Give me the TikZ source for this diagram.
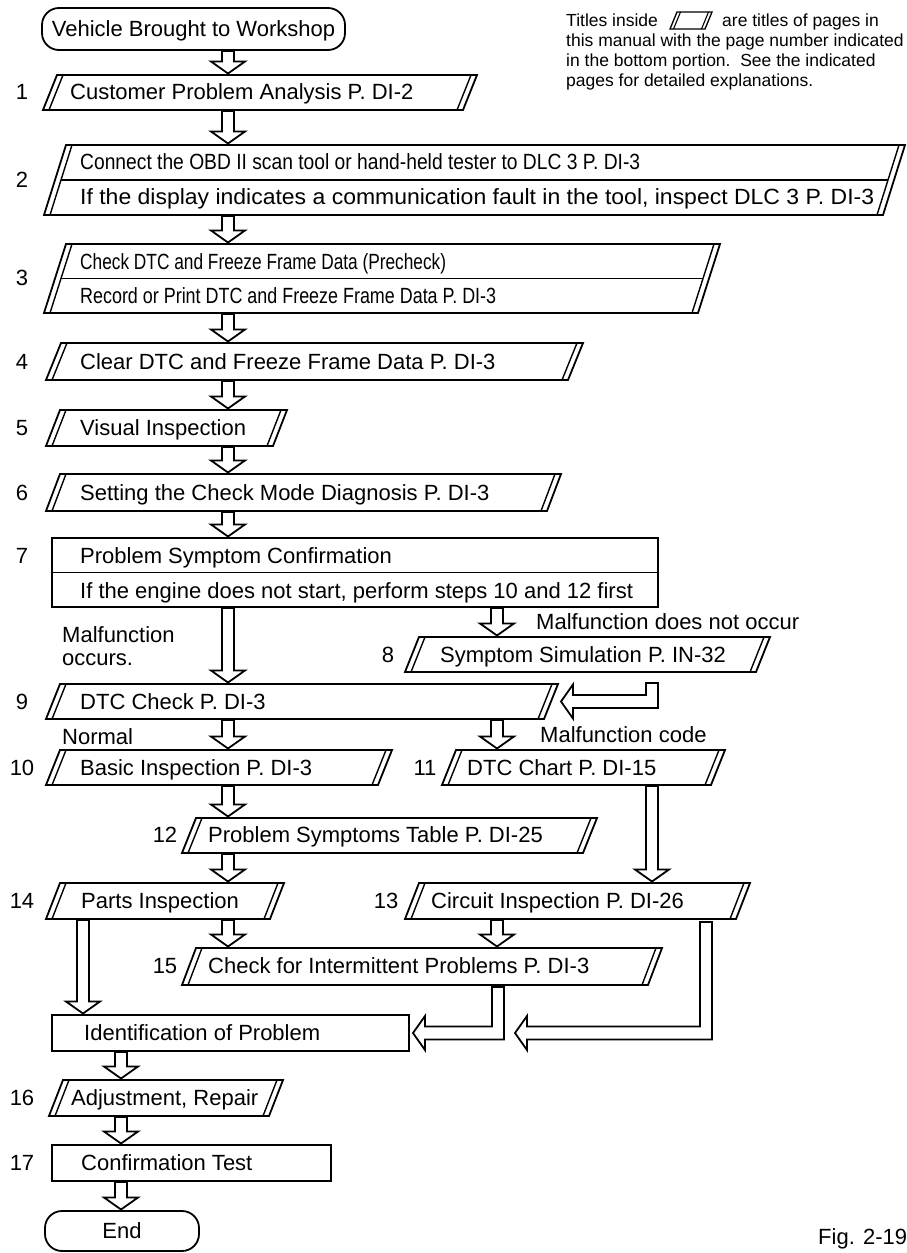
\documentclass[tikz,border=0pt]{standalone}
\usepackage{fontspec}
\setmainfont{Liberation Sans}
\usetikzlibrary{calc}
\tikzset{
 boxln/.style={line width=1.8pt, line join=miter},
 dblln/.style={line width=1.4pt},
 harrow/.style={line width=1.8pt, fill=white, line join=miter},
 pframe/.style={inner sep=0pt, outer sep=0pt, anchor=north west},
 ltext/.style={font=\fontsize{22}{26}\selectfont, inner sep=0pt, text height=15.8pt, text depth=0pt, anchor=west},
 lnum/.style={ltext, anchor=center},
 ntext/.style={font=\fontsize{17.5}{20}\selectfont, inner sep=0pt, text height=12.5pt, text depth=0pt, anchor=west},
}
% parallelogram box: name, x bottom-left, x top-right, y top, y bottom, slant offset
\newcommand\pbox[6]{%
 \node[pframe, minimum width={#3-#2}, minimum height={#5-#4}] (#1) at (#2,#4) {};
 \draw[boxln] ([xshift=#6pt]#1.north west) -- (#1.north east) -- ([xshift=-#6pt]#1.south east) -- (#1.south west) -- cycle;
 \draw[dblln] ([xshift={#6pt+6pt}]#1.north west) -- ([xshift=6pt]#1.south west);
 \draw[dblln] ([xshift=-6pt]#1.north east) -- ([xshift={-#6pt-6pt}]#1.south east);
}
\newcommand\rbox[5]{%
 \node[pframe, draw, boxln, minimum width={#3-#2}, minimum height={#5-#4}] (#1) at (#2,#4) {};}
% vertical hollow arrow from node #1 to node #2 along column #3
\newcommand\varr[3]{%
 \draw[harrow] let \p1=($(#1.south -| #3)+(0,1)$), \p2=($(#2.north -| #3)+(0,-1.5)$) in
 ({\x1-6pt},\y1) -- ({\x1-6pt},{\y2+12pt}) -- ({\x1-17pt},{\y2+12pt}) -- (\x1,\y2) --
 ({\x1+17pt},{\y2+12pt}) -- ({\x1+6pt},{\y2+12pt}) -- ({\x1+6pt},\y1) -- cycle;}
% elbow hollow arrow: down from #1, then left to tip #2
\newcommand\earr[2]{%
 \draw[harrow] let \p1=(#1), \p2=(#2) in
 ({\x1-6pt},\y1) -- ({\x1+6pt},\y1) -- ({\x1+6pt},{\y2-6.5pt}) -- ({\x2+12pt},{\y2-6.5pt}) --
 ({\x2+12pt},{\y2-17pt}) -- (\x2,\y2) -- ({\x2+12pt},{\y2+17pt}) -- ({\x2+12pt},{\y2+6.5pt}) --
 ({\x1-6pt},{\y2+6.5pt}) -- cycle;}
\begin{document}
\begin{tikzpicture}[x=1pt,y=-1pt]
\useasboundingbox (0,0) rectangle (906,1253);
\fill[white] (0,0) rectangle (906,1253);
% columns
\coordinate (cA) at (228,0);
\coordinate (cB) at (497,0);
\coordinate (cC) at (652,0);
\coordinate (cD) at (83,0);
\coordinate (cE) at (121,0);
\coordinate (cF) at (706,0);
\coordinate (cG) at (498,0);
% note
\node[ntext] (nt1) at (566,20) {Titles inside};
\node[pframe, minimum width=42, minimum height=17] (icon) at (670,12) {};
\draw[line width=1.3pt] ([xshift=7pt]icon.north west) -- (icon.north east) -- ([xshift=-7pt]icon.south east) -- (icon.south west) -- cycle;
\draw[line width=1.1pt] ([xshift=10.5pt]icon.north west) -- ([xshift=3.5pt]icon.south west);
\draw[line width=1.1pt] ([xshift=-3.5pt]icon.north east) -- ([xshift=-10.5pt]icon.south east);
\node[ntext] (nt1b) at (722,20) {are titles of pages in};
\node[ntext] (nt2) at (566,40) {this manual with the page number indicated};
\node[ntext] (nt3) at (566,60) {in the bottom portion.~~See the indicated};
\node[ntext] (nt4) at (566,80) {pages for detailed explanations.};
% start
\node[pframe, draw, boxln, rounded corners=17pt, minimum width=303, minimum height=42] (start) at (42,8) {};
\node[lnum] (tstart) at (start.center) {Vehicle Brought to Workshop};
% 1
\pbox{b1}{43}{477}{75}{110}{14}
\node[ltext] (t1) at (70,92) {Customer Problem Analysis P. DI-2};
\node[lnum] (n1) at (22,92) {1};
\varr{start}{b1}{cA}
% 2
\pbox{b2}{44}{905}{145}{215}{22}
\draw[boxln] ([xshift=17pt]b2.west) -- ([xshift=-17pt]b2.east);
\node[ltext] (t2a) at (80,162) {\resizebox{560pt}{\height}{Connect the OBD II scan tool or hand-held tester to DLC 3 P. DI-3}};
\node[ltext] (t2b) at (80,197) {\resizebox{794pt}{\height}{If the display indicates a communication fault in the tool, inspect DLC 3 P. DI-3}};
\node[lnum] (n2) at (22,180) {2};
\varr{b1}{b2}{cA}
% 3
\pbox{b3}{44}{720}{244}{313}{22}
\draw[boxln] ([xshift=17pt]b3.west) -- ([xshift=-17pt]b3.east);
\node[ltext] (t3a) at (80,262) {\resizebox{366pt}{\height}{Check DTC and Freeze Frame Data (Precheck)}};
\node[ltext] (t3b) at (80,296) {\resizebox{416pt}{\height}{Record or Print DTC and Freeze Frame Data P. DI-3}};
\node[lnum] (n3) at (22,278) {3};
\varr{b2}{b3}{cA}
% 4
\pbox{b4}{46}{583}{343}{380}{15}
\node[ltext] (t4) at (80,362) {Clear DTC and Freeze Frame Data P. DI-3};
\node[lnum] (n4) at (22,362) {4};
\varr{b3}{b4}{cA}
% 5
\pbox{b5}{46}{287}{410}{446}{14}
\node[ltext] (t5) at (80,428) {Visual Inspection};
\node[lnum] (n5) at (22,428) {5};
\varr{b4}{b5}{cA}
% 6
\pbox{b6}{46}{561}{474}{511}{14}
\node[ltext] (t6) at (80,493) {Setting the Check Mode Diagnosis P. DI-3};
\node[lnum] (n6) at (22,493) {6};
\varr{b5}{b6}{cA}
% 7
\rbox{b7}{52}{658}{538}{607}
\draw[boxln] (b7.west) -- (b7.east);
\node[ltext] (t7a) at (80,556) {Problem Symptom Confirmation};
\node[ltext] (t7b) at (80,591) {If the engine does not start, perform steps 10 and 12 first};
\node[lnum] (n7) at (22,556) {7};
\varr{b6}{b7}{cA}
% 8
\pbox{b8}{405}{770}{637}{672}{14}
\node[ltext] (t8) at (440,655) {Symptom Simulation P. IN-32};
\node[lnum] (n8) at (388,655) {8};
\varr{b7}{b8}{cB}
\node[ltext] (lmd) at (536,622) {Malfunction does not occur};
% 9
\pbox{b9}{46}{558}{684}{719}{14}
\node[ltext] (t9) at (80,702) {DTC Check P. DI-3};
\node[lnum] (n9) at (22,702) {9};
\varr{b7}{b9}{cA}
\node[ltext] (lm1) at (62,635) {Malfunction};
\node[ltext] (lm2) at (62,658) {occurs.};
\earr{$(b8.south -| cC)+(0,11)$}{$(b9.east)+(3,0)$}
% 10, 11
\pbox{b10}{46}{392}{750}{785}{14}
\node[ltext] (t10) at (80,768) {Basic Inspection P. DI-3};
\node[lnum] (n10) at (22,768) {10};
\pbox{b11}{442}{725}{750}{785}{14}
\node[ltext] (t11) at (467,768) {DTC Chart P. DI-15};
\node[lnum] (n11) at (425,768) {11};
\varr{b9}{b10}{cA}
\varr{b9}{b11}{cB}
\node[ltext] (lnorm) at (62,737) {Normal};
\node[ltext] (lmc) at (540,735) {Malfunction code};
% 12
\pbox{b12}{182}{597}{818}{853}{14}
\node[ltext] (t12) at (208,835) {Problem Symptoms Table P. DI-25};
\node[lnum] (n12) at (165,835) {12};
\varr{b10}{b12}{cA}
% 14, 13
\pbox{b14}{46}{284}{883}{919}{14}
\node[ltext] (t14) at (81,901) {Parts Inspection};
\node[lnum] (n14) at (22,901) {14};
\pbox{b13}{405}{750}{883}{919}{14}
\node[ltext] (t13) at (431,901) {Circuit Inspection P. DI-26};
\node[lnum] (n13) at (386,901) {13};
\varr{b12}{b14}{cA}
\varr{b11}{b13}{cC}
% 15
\pbox{b15}{182}{662}{948}{985}{14}
\node[ltext] (t15) at (208,966) {Check for Intermittent Problems P. DI-3};
\node[lnum] (n15) at (165,966) {15};
\varr{b14}{b15}{cA}
\varr{b13}{b15}{cB}
% identification
\rbox{ident}{52}{409}{1015}{1051}
\node[ltext] (tid) at (84,1033) {Identification of Problem};
\varr{b14}{ident}{cD}
\coordinate (tip13) at (515,1033);
\earr{$(b13.south -| cF)+(0,3)$}{tip13}
\earr{$(b15.south -| cG)+(0,2)$}{$(ident.east)+(4,0)$}
% 16
\pbox{b16}{49}{283}{1080}{1116}{14}
\node[ltext] (t16) at (71,1098) {Adjustment, Repair};
\node[lnum] (n16) at (22,1098) {16};
\varr{ident}{b16}{cE}
% 17
\rbox{b17}{52}{331}{1145}{1181}
\node[ltext] (t17) at (81,1163) {Confirmation Test};
\node[lnum] (n17) at (22,1163) {17};
\varr{b16}{b17}{cE}
% end
\node[pframe, draw, boxln, rounded corners=17pt, minimum width=154, minimum height=40] (end) at (45,1211) {};
\node[lnum] (tend) at (end.center) {End};
\varr{b17}{end}{cE}
\node[ltext] (fig) at (818,1237) {Fig. 2-19};
\end{tikzpicture}
\end{document}
